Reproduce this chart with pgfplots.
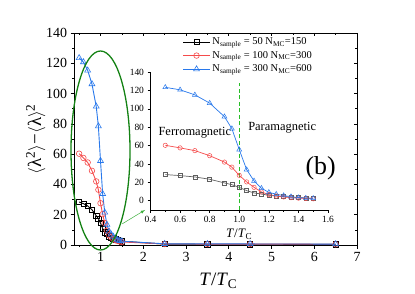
\documentclass[border=0pt]{standalone}
\usepackage{pgfplots}
\pgfplotsset{compat=1.18}
\usepackage{fontspec}
\setmainfont{Liberation Serif}
\definecolor{cblue}{RGB}{40,120,235}
\definecolor{cred}{RGB}{245,75,75}
\definecolor{cgray}{RGB}{95,95,95}
\definecolor{ellg}{RGB}{20,130,20}
\definecolor{arrg}{RGB}{60,175,60}
\definecolor{vlineg}{RGB}{40,190,40}
\pgfplotstableread{
x y
0.5 28.4
0.6 27.3
0.7 25.8
0.8 23.3
0.9 19.3
0.95 17.4
1.0 14.5
1.05 10.9
1.1 8.4
1.15 7.2
1.2 5.8
1.25 5.0
1.3 4.4
1.35 3.8
1.4 3.3
1.45 2.9
1.5 2.5
}\tblack
\pgfplotstableread{
x y
0.5 60.3
0.6 57.5
0.7 54.5
0.8 49.0
0.9 42.0
0.95 36.5
1.0 27.6
1.05 20.4
1.1 14.5
1.15 9.5
1.2 6.5
1.25 5.0
1.3 4.0
1.35 3.2
1.4 2.7
1.45 2.3
1.5 2.0
}\tred
\pgfplotstableread{
x y
0.5 123.5
0.6 120.8
0.7 115.3
0.8 106.3
0.9 91.5
0.95 78.5
1.0 55.6
1.05 33.8
1.1 21.5
1.15 13.5
1.2 9.0
1.25 7.0
1.3 5.5
1.35 4.3
1.4 3.3
1.45 2.8
1.5 2.5
}\tblue
\pgfplotstableread{
x y
0.5 28.4
0.6 27.3
0.7 25.8
0.8 23.3
0.9 19.3
0.95 17.4
1.0 14.5
1.05 10.9
1.1 8.4
1.15 7.2
1.2 5.8
1.25 5.0
1.3 4.4
1.35 3.8
1.4 3.3
1.45 2.9
1.5 2.5
2.5 0.6
3.5 0.5
4.5 0.5
6.5 0.4
}\mblack
\pgfplotstableread{
x y
0.5 60.3
0.6 57.5
0.7 54.5
0.8 49.0
0.9 42.0
0.95 36.5
1.0 27.6
1.05 20.4
1.1 14.5
1.15 9.5
1.2 6.5
1.25 5.0
1.3 4.0
1.35 3.2
1.4 2.7
1.45 2.3
1.5 2.0
2.5 0.7
3.5 0.6
4.5 0.6
6.5 0.5
}\mred
\pgfplotstableread{
x y
0.5 123.5
0.6 120.8
0.7 115.3
0.8 106.3
0.9 91.5
0.95 78.5
1.0 55.6
1.05 33.8
1.1 21.5
1.15 13.5
1.2 9.0
1.25 7.0
1.3 5.5
1.35 4.3
1.4 3.3
1.45 2.8
1.5 2.5
2.5 0.8
3.5 0.7
4.5 0.7
6.5 0.6
}\mblue
\begin{document}
\begin{tikzpicture}
\useasboundingbox (0bp,0bp) rectangle (415bp,294bp);
% main axis
\begin{axis}[
  at={(74bp,49bp)}, anchor=south west,
  width=283bp, height=212bp, scale only axis,
  xmin=0.38, xmax=7, ymin=0, ymax=140,
  xtick={1,2,3,4,5,6,7},
  minor xtick={0.5,1.5,2.5,3.5,4.5,5.5,6.5},
  ytick={0,20,40,60,80,100,120,140},
  minor ytick={10,30,50,70,90,110,130},
  xtick pos=bottom, ytick pos=left,
  tick align=outside,
  major tick length=3.5bp, minor tick length=2bp,
  tick style={black, line width=0.7pt},
  axis line style={line width=0.8pt},
  /pgf/number format/assume math mode=true,
  tick label style={font=\fontsize{14}{16}\selectfont},
  xlabel={\textit{T}/\textit{T}\textsubscript{C}},
  ylabel={$\langle$λ\textsuperscript{2}$\rangle$−$\langle$λ$\rangle$\textsuperscript{2}},
  label style={font=\fontsize{19}{22}\selectfont},
  xlabel style={at={(axis description cs:0.51,0)}, anchor=north, yshift=-25bp},
  ylabel style={at={(axis description cs:0,0.5)}, anchor=south, yshift=25bp},
  legend style={at={(0.383,0.988)}, anchor=north west, draw=none, fill=none,
    font=\fontsize{10.5}{12}\selectfont, row sep=1.2bp, inner sep=0pt,
    /tikz/every even column/.append style={column sep=2bp}},
  legend cell align=left,
  legend image code/.code={\draw[mark repeat=2,mark phase=2] plot coordinates {(0bp,0bp)(13.5bp,0bp)(27bp,0bp)};},
  clip=false,
]
\addplot[black, line width=0.9pt, mark=square, mark size=2.6bp, mark options={solid, line width=0.6pt}] table[x=x,y=y] {\mblack};
\addlegendentry{N\textsubscript{sample} = 50 N\textsubscript{MC}=150}
\addplot[cred, line width=0.9pt, mark=o, mark size=2.8bp, mark options={solid, line width=0.6pt}] table[x=x,y=y] {\mred};
\addlegendentry{N\textsubscript{sample} = 100 N\textsubscript{MC}=300}
\addplot[cblue, line width=0.9pt, mark=triangle, mark size=3.4bp, mark options={solid, line width=0.6pt}] table[x=x,y=y] {\mblue};
\addlegendentry{N\textsubscript{sample} = 300 N\textsubscript{MC}=600}
\end{axis}
% mirrored ticks top/right pointing inward
\begin{axis}[
  at={(74bp,49bp)}, anchor=south west,
  width=283bp, height=212bp, scale only axis,
  xmin=0.38, xmax=7, ymin=0, ymax=140,
  xtick={1,2,3,4,5,6,7},
  minor xtick={0.5,1.5,2.5,3.5,4.5,5.5,6.5},
  ytick={0,20,40,60,80,100,120,140},
  minor ytick={10,30,50,70,90,110,130},
  xtick pos=top, ytick pos=right,
  tick align=inside,
  major tick length=3.5bp, minor tick length=2bp,
  tick style={black, line width=0.7pt},
  axis line style={draw=none},
  xticklabels={}, yticklabels={},
]
\end{axis}
% ellipse and arrow
\draw[ellg, line width=1.3pt] (100.5bp,143.5bp) ellipse [x radius=29.5bp, y radius=99.5bp];
\draw[arrg, line width=0.5pt, -{latex}] (122bp,70bp) -- (145bp,84bp);
% inset
\begin{axis}[
  at={(150.5bp,84.2bp)}, anchor=south west,
  width=177.5bp, height=137.6bp, scale only axis,
  xmin=0.4, xmax=1.6, ymin=-10, ymax=140,
  xtick={0.4,0.6,0.8,1.0,1.2,1.4,1.6},
  minor xtick={0.5,0.7,0.9,1.1,1.3,1.5},
  ytick={0,20,40,60,80,100,120,140},
  axis x line*=bottom, axis y line*=left,
  axis line style={-, line width=0.6pt},
  tick align=outside,
  major tick length=3bp, minor tick length=1.8bp,
  tick style={black, line width=0.5pt},
  xticklabel style={/pgf/number format/.cd, fixed, fixed zerofill, precision=1},
  /pgf/number format/assume math mode=true,
  tick label style={font=\fontsize{9.5}{11}\selectfont},
  xlabel={\textit{T}/\textit{T}\textsubscript{C}},
  xlabel style={font=\fontsize{13}{15}\selectfont, yshift=1bp},
  clip=false,
]
\addplot[color=vlineg, dash pattern=on 4bp off 2.5bp, line width=1.4pt, mark=none] coordinates {(1,-10) (1,128.7)};
\addplot[cgray, line width=0.7pt, mark=square, mark size=2bp, mark options={solid, line width=0.5pt}] table[x=x,y=y] {\tblack};
\addplot[cred, line width=0.7pt, mark=o, mark size=2.2bp, mark options={solid, line width=0.5pt}] table[x=x,y=y] {\tred};
\addplot[cblue, line width=0.7pt, mark=triangle, mark size=2.8bp, mark options={solid, line width=0.5pt}] table[x=x,y=y] {\tblue};
\node[font=\fontsize{12.5}{14}\selectfont] at (axis cs:0.7,74) {Ferromagnetic};
\node[font=\fontsize{12.5}{14}\selectfont] at (axis cs:1.29,80) {Paramagnetic};
\node[font=\fontsize{26}{30}\selectfont] at (axis cs:1.55,35) {(b)};
\end{axis}
\end{tikzpicture}
\end{document}
